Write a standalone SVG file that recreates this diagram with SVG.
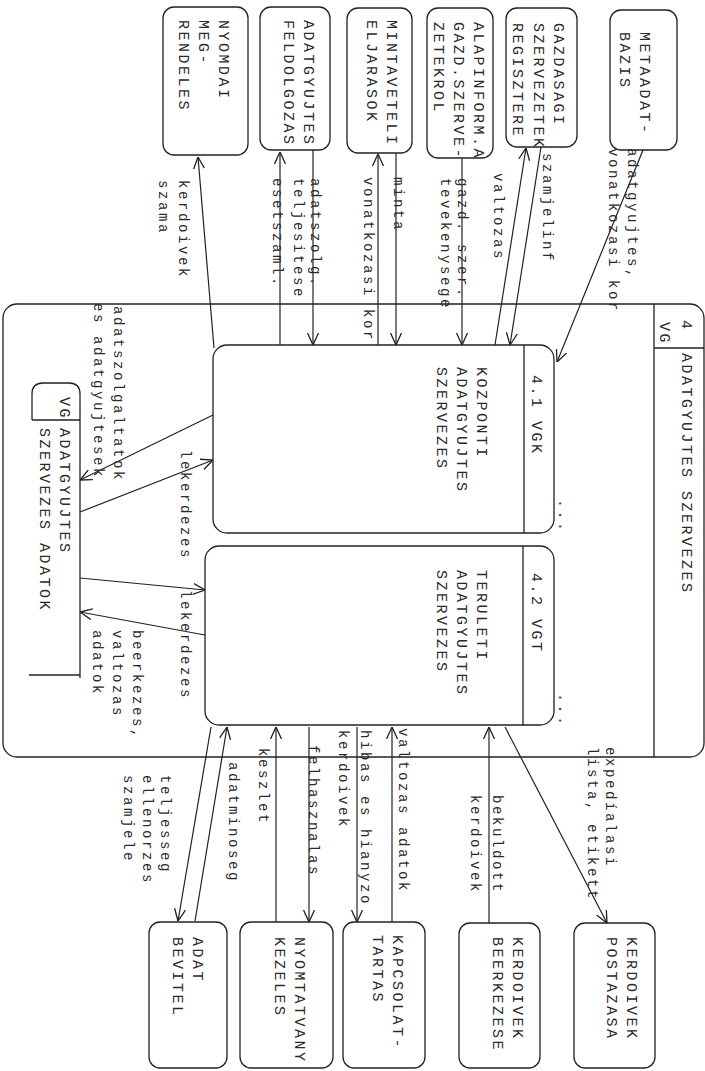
<svg xmlns="http://www.w3.org/2000/svg" width="705" height="1071" viewBox="0 0 705 1071">
<defs>
<marker id="a" viewBox="0 0 12 12" refX="12" refY="6" markerWidth="12" markerHeight="12" markerUnits="userSpaceOnUse" orient="auto">
<path d="M0,0.5 L12,6 L0,11.5" fill="none" stroke="#222" stroke-width="1.3"/>
</marker>
<style>
text{font-family:"Liberation Mono","DejaVu Sans Mono",monospace;fill:#2a2a2a}
.t{font-size:15px;letter-spacing:2.5px}
.l{font-size:14px;letter-spacing:2.6px}
.b{fill:none;stroke:#222;stroke-width:1.3}
.c{fill:none;stroke:#222;stroke-width:1.2;marker-end:url(#a)}
</style>
</defs>
<rect width="705" height="1071" fill="#fff"/>

<g id="outer">
<rect class="b" x="3" y="304" width="701" height="453" rx="14"/>
<path class="b" d="M654,304 V757 M654,348 H704"/>
<text class="t" transform="translate(682,320) rotate(90)">4</text>
<text class="t" transform="translate(660,322) rotate(90)">VG</text>
<text class="t" transform="translate(682,353) rotate(90)">ADATGYUJTES SZERVEZES</text>
</g>

<g id="p41">
<rect class="b" x="213" y="345" width="341" height="188" rx="14"/>
<path class="b" d="M524,345 V533"/>
<text class="t" transform="translate(532,375) rotate(90)">4.1  VGK</text>
<text class="t" transform="translate(477,367) rotate(90)"><tspan x="0" dy="0">KOZPONTI</tspan><tspan x="0" dy="20">ADATGYUJTES</tspan><tspan x="0" dy="20">SZERVEZES</tspan></text>
<text class="t" transform="translate(559,499) rotate(90)">...</text>
</g>

<g id="p42">
<rect class="b" x="205" y="546" width="349" height="179" rx="14"/>
<path class="b" d="M523,546 V725"/>
<text class="t" transform="translate(532,573) rotate(90)">4.2  VGT</text>
<text class="t" transform="translate(477,570) rotate(90)"><tspan x="0" dy="0">TERULETI</tspan><tspan x="0" dy="20">ADATGYUJTES</tspan><tspan x="0" dy="20">SZERVEZES</tspan></text>
<text class="t" transform="translate(559,693) rotate(90)">...</text>
</g>

<g id="store">
<path class="b" d="M32,420 V394 Q32,383 43,383 H69 Q80,383 80,394 V678 M29,675 H80 M32,420 H80"/>
<text class="t" transform="translate(60,397) rotate(90)">VG</text>
<text class="t" transform="translate(60,428) rotate(90)"><tspan x="0" dy="0">ADATGYUJTES</tspan><tspan x="0" dy="20">SZERVEZES ADATOK</tspan></text>
</g>

<g id="nyomdai">
<rect class="b" x="163" y="7" width="85" height="148" rx="11"/>
<text class="t" transform="translate(219,20) rotate(90)"><tspan x="0" dy="0">NYOMDAI</tspan><tspan x="0" dy="20">MEG-</tspan><tspan x="0" dy="20">RENDELES</tspan></text>
</g>
<g id="feldolgozas">
<rect class="b" x="260" y="7" width="70" height="143" rx="11"/>
<text class="t" transform="translate(304,20) rotate(90)"><tspan x="0" dy="0">ADATGYUJTES</tspan><tspan x="0" dy="20">FELDOLGOZAS</tspan></text>
</g>
<g id="mintaveteli">
<rect class="b" x="347" y="8" width="65" height="145" rx="11"/>
<text class="t" transform="translate(387,20) rotate(90)"><tspan x="0" dy="0">MINTAVETELI</tspan><tspan x="0" dy="20">ELJARASOK</tspan></text>
</g>
<g id="alapinform">
<rect class="b" x="427" y="8" width="66" height="150" rx="11"/>
<text class="t" transform="translate(474,22) rotate(90)"><tspan x="0" dy="0">ALAPINFORM.A</tspan><tspan x="0" dy="20">GAZD.SZERVE-</tspan><tspan x="0" dy="20">ZETEKROL</tspan></text>
</g>
<g id="gazdasagi">
<rect class="b" x="506" y="8" width="71" height="139" rx="11"/>
<text class="t" transform="translate(554,23) rotate(90)"><tspan x="0" dy="0">GAZDASAGI</tspan><tspan x="0" dy="20.5">SZERVEZETEK</tspan><tspan x="0" dy="20.5">REGISZTERE</tspan></text>
</g>
<g id="metaadat">
<rect class="b" x="610" y="10" width="67" height="140" rx="11"/>
<text class="t" transform="translate(640,32) rotate(90)"><tspan x="0" dy="0">METAADAT-</tspan><tspan x="0" dy="20">BAZIS</tspan></text>
</g>

<g id="adatbevitel">
<rect class="b" x="149" y="922" width="78" height="146" rx="11"/>
<text class="t" transform="translate(193,937) rotate(90)"><tspan x="0" dy="0">ADAT</tspan><tspan x="0" dy="20">BEVITEL</tspan></text>
</g>
<g id="nyomtatvany">
<rect class="b" x="240" y="922" width="93" height="146" rx="11"/>
<text class="t" transform="translate(295,937) rotate(90)"><tspan x="0" dy="0">NYOMTATVANY</tspan><tspan x="0" dy="20">KEZELES</tspan></text>
</g>
<g id="kapcsolattartas">
<rect class="b" x="343" y="922" width="82" height="146" rx="11"/>
<text class="t" transform="translate(393,935) rotate(90)"><tspan x="0" dy="0">KAPCSOLAT-</tspan><tspan x="0" dy="20">TARTAS</tspan></text>
</g>
<g id="beerkezese">
<rect class="b" x="459" y="923" width="81" height="145" rx="11"/>
<text class="t" transform="translate(513,937) rotate(90)"><tspan x="0" dy="0">KERDOIVEK</tspan><tspan x="0" dy="20">BEERKEZESE</tspan></text>
</g>
<g id="postazasa">
<rect class="b" x="574" y="923" width="81" height="145" rx="11"/>
<text class="t" transform="translate(627,937) rotate(90)"><tspan x="0" dy="0">KERDOIVEK</tspan><tspan x="0" dy="20">POSTAZASA</tspan></text>
</g>

<g id="connectors">
<path class="c" d="M214,348 L198,157"/>
<path class="c" d="M280,345 V152"/>
<path class="c" d="M313,150 V345"/>
<path class="c" d="M378,345 V154"/>
<path class="c" d="M396,153 V345"/>
<path class="c" d="M462,158 V345"/>
<path class="c" d="M495,345 L526,148"/>
<path class="c" d="M541,147 L510,345"/>
<path class="c" d="M643,150 L557,362"/>
<path class="c" d="M213,415 L80,480"/>
<path class="c" d="M80,512 L213,460"/>
<path class="c" d="M80,578 L205,590"/>
<path class="c" d="M205,635 L80,612"/>
<path class="c" d="M211,727 L178,921"/>
<path class="c" d="M195,921 L227,727"/>
<path class="c" d="M276,922 V727"/>
<path class="c" d="M309,727 V922"/>
<path class="c" d="M357,727 V922"/>
<path class="c" d="M392,922 V727"/>
<path class="c" d="M489,923 V727"/>
<path class="c" d="M505,727 L607,923"/>
<g id="labels">
<text class="l" transform="translate(179,180) rotate(90)"><tspan x="0" dy="0">kerdoivek</tspan><tspan x="0" dy="20">szama</tspan></text>
<text class="l" transform="translate(311,178) rotate(90)">adatszolg.</text>
<text class="l" transform="translate(294,178) rotate(90)">teljesitese</text>
<text class="l" transform="translate(273,178) rotate(90)">esetszaml.</text>
<text class="l" transform="translate(394,177) rotate(90)">minta</text>
<text class="l" transform="translate(364,177) rotate(90)">vonatkozasi kor</text>
<text class="l" transform="translate(458,178) rotate(90)">gazd. szer.</text>
<text class="l" transform="translate(441,178) rotate(90)">tevekenysege</text>
<text class="l" transform="translate(494,173) rotate(90)">valtozas</text>
<text class="l" transform="translate(543,153) rotate(90)">szamjelinf</text>
<text class="l" transform="translate(628,148) rotate(90)">adatgyujtes,</text>
<text class="l" transform="translate(609,148) rotate(90)">vonatkozasi kor</text>
<text class="l" transform="translate(114,306) rotate(90)">adatszolgaltatok</text>
<text class="l" transform="translate(94,303) rotate(90)">es adatgyujtesek</text>
<text class="l" transform="translate(181,450) rotate(90)">lekerdezes</text>
<text class="l" transform="translate(181,590) rotate(90)">lekerdezes</text>
<text class="l" transform="translate(133,630) rotate(90)"><tspan x="0" dy="0">beerkezes,</tspan><tspan x="0" dy="20">valtozas</tspan><tspan x="0" dy="20">adatok</tspan></text>
<text class="l" transform="translate(161,775) rotate(90)"><tspan x="0" dy="0">teljesseg</tspan><tspan x="0" dy="18.5">ellenorzes</tspan><tspan x="0" dy="18.5">szamjele</tspan></text>
<text class="l" transform="translate(229,762) rotate(90)">adatminoseg</text>
<text class="l" transform="translate(259,748) rotate(90)">keszlet</text>
<text class="l" transform="translate(309,745) rotate(90)">felhasznalas</text>
<text class="l" transform="translate(361,730) rotate(90)">hibas es hianyzo</text>
<text class="l" transform="translate(339,730) rotate(90)">kerdoivek</text>
<text class="l" transform="translate(399,728) rotate(90)">valtozas adatok</text>
<text class="l" transform="translate(493,795) rotate(90)">bekuldott</text>
<text class="l" transform="translate(471,795) rotate(90)">kerdoivek</text>
<text class="l" transform="translate(606,747) rotate(90)">expedíalasi</text>
<text class="l" transform="translate(588,747) rotate(90)">lista, etikett</text>
</g>
</g>
</svg>
